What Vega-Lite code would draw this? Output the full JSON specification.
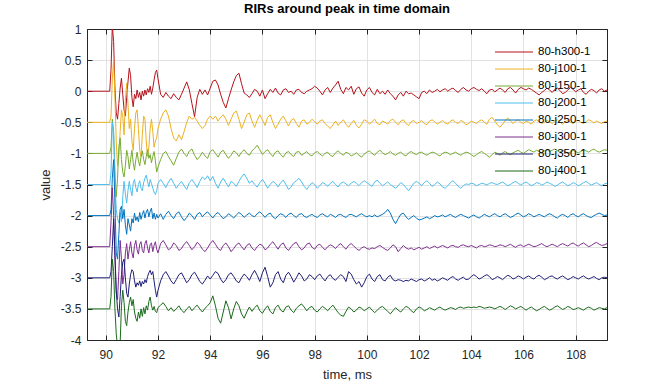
{
"$schema":"https://vega.github.io/schema/vega-lite/v6.json",
"width":520,"height":311,
"autosize":{"type":"none"},
"padding":{"left":87,"top":29,"right":65,"bottom":44},
"background":"white",
"title":{"text":"RIRs around peak in time domain","fontSize":13,"fontWeight":"bold","font":"Liberation Sans","color":"#000000","offset":7,"anchor":"middle"},
"config":{"view":{"stroke":"#262626","strokeWidth":1},"font":"Liberation Sans",
"axis":{"domainColor":"#262626","tickColor":"#262626","tickSize":-5,"labelColor":"#262626","labelFontSize":12,"labelFont":"Liberation Sans","titleFont":"Liberation Sans","titleFontWeight":"normal","titleFontSize":13,"titleColor":"#262626","gridColor":"#e2e2e2","gridWidth":1}},
"data":{"values":[
{"t":89.28,"a":0,"b":-0.5,"c":-1,"d":-1.5,"e":-2,"f":-2.5,"g":-3,"h":-3.5},
{"t":90.15,"a":0,"b":-0.5,"c":-1,"d":-1.5,"e":-2,"f":-2.5,"g":-3,"h":-3.5},
{"t":90.2,"a":0.35,"b":-0.4,"c":-0.9,"d":-1.3,"e":-1.9,"f":-2.1,"g":-2.9,"h":-3.3},
{"t":90.25,"a":1.05,"b":0.2,"c":-0.45,"d":-0.5,"e":-1.4,"f":-1.55,"g":-2.5,"h":-2.7},
{"t":90.3,"a":0.8,"b":0.5,"c":-0.7,"d":-0.65,"e":-1.1,"f":-2.0,"g":-2.05,"h":-2.9},
{"t":90.35,"a":0.05,"b":-0.1,"c":-1.3,"d":-1.4,"e":-1.8,"f":-2.7,"g":-2.6,"h":-3.5},
{"t":90.4,"a":-0.35,"b":-0.8,"c":-1.7,"d":-1.9,"e":-2.6,"f":-3.25,"g":-3.2,"h":-3.9},
{"t":90.45,"a":-0.45,"b":-1.2,"c":-1.4,"d":-2.05,"e":-2.7,"f":-3.35,"g":-3.5,"h":-4.1},
{"t":90.5,"a":-0.2,"b":-1.05,"c":-0.9,"d":-2.12,"e":-2.3,"f":-2.9,"g":-3.63,"h":-4.15},
{"t":90.55,"a":0.05,"b":-0.65,"c":-0.75,"d":-1.95,"e":-1.9,"f":-2.4,"g":-3.3,"h":-4.05},
{"t":90.6,"a":0.21,"b":-0.3,"c":-1.1,"d":-2.1,"e":-1.85,"f":-2.7,"g":-2.95,"h":-3.45},
{"t":90.65,"a":-0.05,"b":-0.4,"c":-1.3,"d":-1.7,"e":-2.05,"f":-3.1,"g":-2.75,"h":-3.2},
{"t":90.7,"a":-0.3,"b":-0.7,"c":-1.38,"d":-1.45,"e":-1.9,"f":-2.95,"g":-2.7,"h":-3.4},
{"t":90.75,"a":-0.4,"b":-0.15,"c":-1.2,"d":-1.65,"e":-2.15,"f":-2.6,"g":-3.0,"h":-3.7},
{"t":90.8,"a":-0.1,"b":0.13,"c":-0.95,"d":-1.8,"e":-2.3,"f":-2.45,"g":-3.25,"h":-3.77},
{"t":90.85,"a":0.15,"b":-0.2,"c":-1.05,"d":-1.6,"e":-2.05,"f":-2.7,"g":-3.31,"h":-3.55},
{"t":90.9,"a":0.37,"b":-0.6,"c":-1.25,"d":-1.45,"e":-2.15,"f":-2.55,"g":-3.1,"h":-3.4},
{"t":90.95,"a":0.25,"b":-0.45,"c":-1.1,"d":-1.58,"e":-2.25,"f":-2.42,"g":-2.95,"h":-3.31},
{"t":91.0,"a":-0.1,"b":-0.8,"c":-0.95,"d":-1.68,"e":-2.05,"f":-2.6,"g":-2.87,"h":-3.45},
{"t":91.05,"a":-0.25,"b":-0.95,"c":-1.15,"d":-1.48,"e":-2.12,"f":-2.68,"g":-2.9,"h":-3.35},
{"t":91.1,"a":-0.05,"b":-0.6,"c":-1.27,"d":-1.42,"e":-1.96,"f":-2.48,"g":-3.05,"h":-3.55},
{"t":91.15,"a":-0.12,"b":-0.35,"c":-1.1,"d":-1.55,"e":-2.08,"f":-2.4,"g":-3.15,"h":-3.65},
{"t":91.2,"a":0.02,"b":-0.3,"c":-0.98,"d":-1.62,"e":-2.02,"f":-2.55,"g":-3.08,"h":-3.7},
{"t":91.25,"a":-0.1,"b":-0.6,"c":-1.12,"d":-1.5,"e":-2.1,"f":-2.62,"g":-3.12,"h":-3.55},
{"t":91.3,"a":-0.02,"b":-0.95,"c":-1.2,"d":-1.44,"e":-1.95,"f":-2.46,"g":-3.05,"h":-3.65},
{"t":91.35,"a":-0.14,"b":-1.05,"c":-1.05,"d":-1.56,"e":-2.06,"f":-2.42,"g":-3.14,"h":-3.5},
{"t":91.4,"a":0.0,"b":-0.7,"c":-0.96,"d":-1.6,"e":-1.98,"f":-2.56,"g":-3.06,"h":-3.62},
{"t":91.45,"a":-0.08,"b":-0.4,"c":-1.1,"d":-1.47,"e":-1.92,"f":-2.6,"g":-3.1,"h":-3.48},
{"t":91.5,"a":0.02,"b":-0.45,"c":-1.18,"d":-1.4,"e":-2.04,"f":-2.45,"g":-3.03,"h":-3.58},
{"t":91.55,"a":-0.06,"b":-0.8,"c":-1.05,"d":-1.35,"e":-1.94,"f":-2.4,"g":-3.08,"h":-3.45},
{"t":91.6,"a":0.04,"b":-1.05,"c":-0.94,"d":-1.45,"e":-1.9,"f":-2.52,"g":-2.98,"h":-3.52},
{"t":91.65,"a":-0.02,"b":-0.9,"c":-1.08,"d":-1.54,"e":-2.02,"f":-2.6,"g":-2.92,"h":-3.38},
{"t":91.7,"a":0.08,"b":-0.6,"c":-1.02,"d":-1.42,"e":-1.93,"f":-2.46,"g":-2.88,"h":-3.31},
{"t":91.75,"a":-0.05,"b":-0.45,"c":-1.15,"d":-1.48,"e":-1.88,"f":-2.44,"g":-2.95,"h":-3.45},
{"t":91.8,"a":0.05,"b":-0.65,"c":-1.05,"d":-1.56,"e":-2.05,"f":-2.58,"g":-2.9,"h":-3.52},
{"t":91.85,"a":0.18,"b":-0.9,"c":-0.97,"d":-1.62,"e":-1.96,"f":-2.48,"g":-3.05,"h":-3.46},
{"t":91.9,"a":0.3,"b":-0.8,"c":-1.12,"d":-1.66,"e":-2.06,"f":-2.42,"g":-3.2,"h":-3.54},
{"t":91.95,"a":0.34,"b":-0.75,"c":-1.3,"d":-1.6,"e":-1.98,"f":-2.54,"g":-3.31,"h":-3.56},
{"t":92.0,"a":0.2,"b":-0.6,"c":-1.22,"d":-1.48,"e":-2.04,"f":-2.6,"g":-3.2,"h":-3.48},
{"t":92.1,"a":-0.05,"b":-0.45,"c":-1.1,"d":-1.42,"e":-1.97,"f":-2.45,"g":-3.05,"h":-3.44},
{"t":92.2,"a":-0.1,"b":-0.35,"c":-1.0,"d":-1.48,"e":-2.06,"f":-2.4,"g":-2.95,"h":-3.4},
{"t":92.3,"a":-0.02,"b":-0.3,"c":-0.97,"d":-1.55,"e":-1.98,"f":-2.47,"g":-2.9,"h":-3.46},
{"t":92.4,"a":-0.08,"b":-0.4,"c":-1.05,"d":-1.46,"e":-1.93,"f":-2.55,"g":-2.97,"h":-3.53},
{"t":92.5,"a":-0.12,"b":-0.6,"c":-1.12,"d":-1.4,"e":-2.0,"f":-2.52,"g":-3.05,"h":-3.48},
{"t":92.6,"a":-0.04,"b":-0.75,"c":-1.19,"d":-1.48,"e":-2.05,"f":-2.44,"g":-3.1,"h":-3.54},
{"t":92.7,"a":-0.1,"b":-0.8,"c":-1.08,"d":-1.56,"e":-1.97,"f":-2.48,"g":-3.03,"h":-3.5},
{"t":92.8,"a":-0.14,"b":-0.7,"c":-0.98,"d":-1.5,"e":-1.94,"f":-2.56,"g":-2.95,"h":-3.45},
{"t":92.9,"a":-0.05,"b":-0.78,"c":-0.93,"d":-1.45,"e":-2.02,"f":-2.53,"g":-2.92,"h":-3.52},
{"t":93.0,"a":0.05,"b":-0.65,"c":-1.0,"d":-1.52,"e":-2.08,"f":-2.46,"g":-3.0,"h":-3.56},
{"t":93.1,"a":0.15,"b":-0.5,"c":-1.05,"d":-1.58,"e":-2.03,"f":-2.42,"g":-3.08,"h":-3.5},
{"t":93.2,"a":0.02,"b":-0.4,"c":-0.96,"d":-1.47,"e":-1.96,"f":-2.48,"g":-3.03,"h":-3.46},
{"t":93.3,"a":-0.2,"b":-0.45,"c":-0.93,"d":-1.42,"e":-2.0,"f":-2.55,"g":-2.95,"h":-3.53},
{"t":93.4,"a":-0.41,"b":-0.42,"c":-1.03,"d":-1.48,"e":-2.06,"f":-2.5,"g":-2.91,"h":-3.48},
{"t":93.5,"a":-0.1,"b":-0.48,"c":-1.1,"d":-1.55,"e":-1.98,"f":-2.43,"g":-2.98,"h":-3.44},
{"t":93.6,"a":0.03,"b":-0.55,"c":-1.05,"d":-1.45,"e":-1.95,"f":-2.47,"g":-3.06,"h":-3.5},
{"t":93.7,"a":-0.05,"b":-0.6,"c":-0.98,"d":-1.38,"e":-2.02,"f":-2.54,"g":-3.1,"h":-3.55},
{"t":93.8,"a":0.02,"b":-0.55,"c":-1.04,"d":-1.42,"e":-1.97,"f":-2.58,"g":-3.04,"h":-3.49},
{"t":93.9,"a":-0.06,"b":-0.45,"c":-1.08,"d":-1.36,"e":-1.94,"f":-2.52,"g":-2.97,"h":-3.45},
{"t":94.0,"a":0.05,"b":-0.4,"c":-0.97,"d":-1.44,"e":-1.99,"f":-2.45,"g":-3.02,"h":-3.4},
{"t":94.1,"a":0.16,"b":-0.45,"c":-0.94,"d":-1.37,"e":-2.04,"f":-2.4,"g":-2.96,"h":-3.29},
{"t":94.2,"a":0.18,"b":-0.4,"c":-1.0,"d":-1.48,"e":-1.98,"f":-2.46,"g":-2.9,"h":-3.45},
{"t":94.3,"a":0.1,"b":-0.48,"c":-1.06,"d":-1.56,"e":-1.95,"f":-2.53,"g":-2.93,"h":-3.65},
{"t":94.4,"a":-0.05,"b":-0.42,"c":-0.98,"d":-1.46,"e":-2.0,"f":-2.56,"g":-3.02,"h":-3.73},
{"t":94.5,"a":-0.18,"b":-0.38,"c":-0.95,"d":-1.4,"e":-2.05,"f":-2.48,"g":-3.08,"h":-3.55},
{"t":94.6,"a":-0.27,"b":-0.45,"c":-1.02,"d":-1.47,"e":-2.02,"f":-2.44,"g":-3.03,"h":-3.37},
{"t":94.7,"a":-0.12,"b":-0.55,"c":-1.08,"d":-1.54,"e":-1.97,"f":-2.5,"g":-2.95,"h":-3.48},
{"t":94.8,"a":0.02,"b":-0.45,"c":-1.03,"d":-1.45,"e":-2.0,"f":-2.58,"g":-2.92,"h":-3.66},
{"t":94.9,"a":0.15,"b":-0.35,"c":-0.96,"d":-1.48,"e":-2.04,"f":-2.53,"g":-2.98,"h":-3.5},
{"t":95.0,"a":0.25,"b":-0.32,"c":-0.99,"d":-1.53,"e":-1.99,"f":-2.47,"g":-3.05,"h":-3.38},
{"t":95.1,"a":0.29,"b":-0.45,"c":-1.05,"d":-1.45,"e":-1.95,"f":-2.44,"g":-3.08,"h":-3.45},
{"t":95.2,"a":0.12,"b":-0.6,"c":-0.98,"d":-1.38,"e":-1.98,"f":-2.5,"g":-3.0,"h":-3.58},
{"t":95.3,"a":-0.03,"b":-0.5,"c":-0.94,"d":-1.33,"e":-2.03,"f":-2.55,"g":-2.94,"h":-3.65},
{"t":95.4,"a":-0.06,"b":-0.38,"c":-1.0,"d":-1.4,"e":-1.99,"f":-2.48,"g":-2.98,"h":-3.55},
{"t":95.5,"a":-0.1,"b":-0.35,"c":-1.03,"d":-1.48,"e":-1.96,"f":-2.45,"g":-3.04,"h":-3.47},
{"t":95.6,"a":-0.04,"b":-0.48,"c":-0.96,"d":-1.44,"e":-2.0,"f":-2.52,"g":-2.95,"h":-3.54},
{"t":95.7,"a":0.03,"b":-0.58,"c":-0.92,"d":-1.5,"e":-2.02,"f":-2.56,"g":-2.88,"h":-3.48},
{"t":95.8,"a":0.0,"b":-0.47,"c":-0.87,"d":-1.54,"e":-1.97,"f":-2.5,"g":-2.96,"h":-3.44},
{"t":95.9,"a":-0.08,"b":-0.38,"c":-0.94,"d":-1.47,"e":-1.94,"f":-2.46,"g":-3.06,"h":-3.53},
{"t":96.0,"a":0.02,"b":-0.46,"c":-1.02,"d":-1.42,"e":-1.98,"f":-2.48,"g":-2.92,"h":-3.57},
{"t":96.1,"a":-0.12,"b":-0.55,"c":-0.97,"d":-1.48,"e":-2.03,"f":-2.55,"g":-2.83,"h":-3.5},
{"t":96.2,"a":-0.04,"b":-0.42,"c":-0.94,"d":-1.56,"e":-1.98,"f":-2.52,"g":-2.98,"h":-3.45},
{"t":96.3,"a":0.03,"b":-0.38,"c":-1.0,"d":-1.5,"e":-1.96,"f":-2.46,"g":-3.15,"h":-3.54},
{"t":96.4,"a":-0.02,"b":-0.5,"c":-1.05,"d":-1.45,"e":-2.02,"f":-2.42,"g":-3.08,"h":-3.58},
{"t":96.5,"a":0.05,"b":-0.6,"c":-0.98,"d":-1.48,"e":-2.05,"f":-2.48,"g":-2.95,"h":-3.48},
{"t":96.6,"a":-0.03,"b":-0.53,"c":-0.96,"d":-1.54,"e":-2.0,"f":-2.54,"g":-2.9,"h":-3.44},
{"t":96.7,"a":-0.06,"b":-0.45,"c":-1.02,"d":-1.47,"e":-1.97,"f":-2.47,"g":-3.02,"h":-3.52},
{"t":96.8,"a":0.02,"b":-0.4,"c":-1.06,"d":-1.43,"e":-1.99,"f":-2.44,"g":-3.08,"h":-3.55},
{"t":96.9,"a":0.04,"b":-0.48,"c":-0.99,"d":-1.5,"e":-2.03,"f":-2.52,"g":-2.96,"h":-3.47},
{"t":97.0,"a":-0.02,"b":-0.56,"c":-0.97,"d":-1.58,"e":-1.98,"f":-2.56,"g":-2.91,"h":-3.45},
{"t":97.1,"a":0.0,"b":-0.47,"c":-1.02,"d":-1.54,"e":-1.96,"f":-2.5,"g":-2.98,"h":-3.52},
{"t":97.2,"a":-0.05,"b":-0.44,"c":-1.05,"d":-1.47,"e":-2.0,"f":-2.45,"g":-3.07,"h":-3.56},
{"t":97.3,"a":0.02,"b":-0.52,"c":-0.98,"d":-1.44,"e":-2.03,"f":-2.43,"g":-3.0,"h":-3.49},
{"t":97.4,"a":0.03,"b":-0.58,"c":-0.97,"d":-1.4,"e":-1.98,"f":-2.5,"g":-2.92,"h":-3.45},
{"t":97.5,"a":-0.02,"b":-0.48,"c":-1.03,"d":-1.46,"e":-1.97,"f":-2.55,"g":-2.97,"h":-3.42},
{"t":97.6,"a":-0.04,"b":-0.46,"c":-1.0,"d":-1.53,"e":-2.01,"f":-2.52,"g":-3.05,"h":-3.47},
{"t":97.7,"a":0.0,"b":-0.53,"c":-0.97,"d":-1.58,"e":-2.03,"f":-2.46,"g":-3.02,"h":-3.53},
{"t":97.8,"a":0.02,"b":-0.5,"c":-1.02,"d":-1.52,"e":-2.0,"f":-2.44,"g":-2.95,"h":-3.48},
{"t":97.9,"a":0.04,"b":-0.45,"c":-1.04,"d":-1.47,"e":-1.98,"f":-2.51,"g":-2.98,"h":-3.46},
{"t":98.0,"a":0.08,"b":-0.49,"c":-0.99,"d":-1.5,"e":-2.01,"f":-2.54,"g":-3.03,"h":-3.52},
{"t":98.1,"a":0.05,"b":-0.53,"c":-0.97,"d":-1.56,"e":-2.03,"f":-2.48,"g":-2.97,"h":-3.55},
{"t":98.2,"a":0.0,"b":-0.48,"c":-1.01,"d":-1.52,"e":-1.99,"f":-2.46,"g":-2.94,"h":-3.5},
{"t":98.3,"a":-0.06,"b":-0.46,"c":-1.04,"d":-1.47,"e":-1.97,"f":-2.51,"g":-3.0,"h":-3.46},
{"t":98.4,"a":0.02,"b":-0.52,"c":-1.0,"d":-1.49,"e":-2.0,"f":-2.55,"g":-3.05,"h":-3.49},
{"t":98.5,"a":0.06,"b":-0.56,"c":-0.98,"d":-1.53,"e":-2.02,"f":-2.5,"g":-2.98,"h":-3.53},
{"t":98.6,"a":-0.02,"b":-0.6,"c":-1.03,"d":-1.48,"e":-1.98,"f":-2.47,"g":-2.95,"h":-3.48},
{"t":98.7,"a":0.05,"b":-0.54,"c":-1.05,"d":-1.45,"e":-2.0,"f":-2.49,"g":-3.01,"h":-3.44},
{"t":98.8,"a":0.1,"b":-0.48,"c":-0.99,"d":-1.5,"e":-2.03,"f":-2.53,"g":-3.04,"h":-3.5},
{"t":98.9,"a":0.16,"b":-0.55,"c":-0.96,"d":-1.54,"e":-1.99,"f":-2.48,"g":-2.99,"h":-3.56},
{"t":99.0,"a":0.03,"b":-0.5,"c":-1.0,"d":-1.48,"e":-1.98,"f":-2.45,"g":-2.95,"h":-3.6},
{"t":99.1,"a":-0.04,"b":-0.46,"c":-1.03,"d":-1.46,"e":-2.01,"f":-2.5,"g":-2.98,"h":-3.62},
{"t":99.2,"a":0.06,"b":-0.53,"c":-0.98,"d":-1.49,"e":-2.03,"f":-2.54,"g":-3.06,"h":-3.54},
{"t":99.3,"a":0.02,"b":-0.58,"c":-1.0,"d":-1.52,"e":-1.99,"f":-2.48,"g":-2.9,"h":-3.47},
{"t":99.4,"a":0.08,"b":-0.52,"c":-1.04,"d":-1.48,"e":-1.98,"f":-2.45,"g":-2.94,"h":-3.5},
{"t":99.5,"a":-0.05,"b":-0.47,"c":-1.02,"d":-1.45,"e":-2.0,"f":-2.49,"g":-3.03,"h":-3.55},
{"t":99.6,"a":0.04,"b":-0.55,"c":-0.99,"d":-1.48,"e":-2.02,"f":-2.53,"g":-3.1,"h":-3.52},
{"t":99.7,"a":0.07,"b":-0.59,"c":-1.03,"d":-1.52,"e":-1.99,"f":-2.56,"g":-3.06,"h":-3.47},
{"t":99.8,"a":-0.03,"b":-0.53,"c":-1.06,"d":-1.47,"e":-1.97,"f":-2.52,"g":-3.15,"h":-3.49},
{"t":99.9,"a":-0.08,"b":-0.46,"c":-1.01,"d":-1.44,"e":-2.0,"f":-2.5,"g":-3.08,"h":-3.53},
{"t":100.0,"a":0.02,"b":-0.48,"c":-0.98,"d":-1.47,"e":-2.02,"f":-2.53,"g":-2.98,"h":-3.5},
{"t":100.1,"a":0.06,"b":-0.53,"c":-0.96,"d":-1.5,"e":-2.0,"f":-2.54,"g":-2.94,"h":-3.47},
{"t":100.2,"a":-0.02,"b":-0.49,"c":-1.0,"d":-1.53,"e":-2.02,"f":-2.52,"g":-3.02,"h":-3.52},
{"t":100.3,"a":-0.06,"b":-0.45,"c":-1.03,"d":-1.46,"e":-1.99,"f":-2.53,"g":-3.06,"h":-3.56},
{"t":100.4,"a":0.03,"b":-0.52,"c":-0.98,"d":-1.43,"e":-2.02,"f":-2.5,"g":-2.98,"h":-3.52},
{"t":100.5,"a":-0.04,"b":-0.54,"c":-0.95,"d":-1.48,"e":-2.0,"f":-2.48,"g":-2.95,"h":-3.48},
{"t":100.6,"a":0.0,"b":-0.48,"c":-0.99,"d":-1.52,"e":-1.98,"f":-2.51,"g":-3.03,"h":-3.46},
{"t":100.7,"a":-0.05,"b":-0.5,"c":-1.02,"d":-1.49,"e":-1.95,"f":-2.54,"g":-3.05,"h":-3.5},
{"t":100.8,"a":0.02,"b":-0.53,"c":-1.0,"d":-1.46,"e":-1.9,"f":-2.56,"g":-2.99,"h":-3.54},
{"t":100.9,"a":-0.04,"b":-0.47,"c":-0.97,"d":-1.5,"e":-1.96,"f":-2.52,"g":-2.96,"h":-3.58},
{"t":101.0,"a":-0.08,"b":-0.45,"c":-1.01,"d":-1.53,"e":-2.06,"f":-2.47,"g":-3.03,"h":-3.53},
{"t":101.1,"a":-0.14,"b":-0.5,"c":-1.03,"d":-1.56,"e":-2.13,"f":-2.5,"g":-3.05,"h":-3.48},
{"t":101.2,"a":-0.06,"b":-0.54,"c":-1.0,"d":-1.52,"e":-2.05,"f":-2.58,"g":-3.03,"h":-3.52},
{"t":101.3,"a":-0.02,"b":-0.48,"c":-0.98,"d":-1.47,"e":-1.98,"f":-2.53,"g":-3.04,"h":-3.55},
{"t":101.4,"a":-0.08,"b":-0.46,"c":-1.02,"d":-1.5,"e":-1.96,"f":-2.48,"g":-3.06,"h":-3.5},
{"t":101.5,"a":0.0,"b":-0.52,"c":-1.04,"d":-1.55,"e":-2.02,"f":-2.52,"g":-3.04,"h":-3.46},
{"t":101.6,"a":-0.04,"b":-0.55,"c":-0.99,"d":-1.6,"e":-2.06,"f":-2.54,"g":-3.05,"h":-3.48},
{"t":101.7,"a":-0.03,"b":-0.49,"c":-0.97,"d":-1.54,"e":-2.03,"f":-2.52,"g":-3.02,"h":-3.53},
{"t":101.8,"a":-0.06,"b":-0.47,"c":-1.0,"d":-1.48,"e":-2.0,"f":-2.55,"g":-3.04,"h":-3.56},
{"t":101.9,"a":-0.09,"b":-0.52,"c":-1.02,"d":-1.45,"e":-2.04,"f":-2.53,"g":-3.06,"h":-3.5},
{"t":102.0,"a":-0.12,"b":-0.5,"c":-0.99,"d":-1.48,"e":-2.07,"f":-2.51,"g":-3.03,"h":-3.47},
{"t":102.1,"a":-0.02,"b":-0.47,"c":-0.98,"d":-1.52,"e":-2.06,"f":-2.54,"g":-3.02,"h":-3.49},
{"t":102.2,"a":0.0,"b":-0.52,"c":-1.01,"d":-1.47,"e":-2.04,"f":-2.52,"g":-3.05,"h":-3.53},
{"t":102.3,"a":-0.04,"b":-0.54,"c":-1.03,"d":-1.44,"e":-2.02,"f":-2.5,"g":-3.03,"h":-3.51},
{"t":102.4,"a":0.02,"b":-0.48,"c":-1.0,"d":-1.48,"e":-2.05,"f":-2.53,"g":-3.0,"h":-3.48},
{"t":102.5,"a":-0.02,"b":-0.46,"c":-0.98,"d":-1.53,"e":-2.03,"f":-2.51,"g":-3.04,"h":-3.5},
{"t":102.6,"a":0.0,"b":-0.49,"c":-0.99,"d":-1.5,"e":-2.0,"f":-2.49,"g":-3.02,"h":-3.52},
{"t":102.7,"a":0.03,"b":-0.53,"c":-1.02,"d":-1.46,"e":-2.02,"f":-2.52,"g":-3.05,"h":-3.49},
{"t":102.8,"a":-0.01,"b":-0.5,"c":-1.04,"d":-1.49,"e":-2.01,"f":-2.5,"g":-3.03,"h":-3.47},
{"t":102.9,"a":0.02,"b":-0.47,"c":-1.0,"d":-1.54,"e":-1.99,"f":-2.48,"g":-3.0,"h":-3.5},
{"t":103.0,"a":0.04,"b":-0.51,"c":-0.98,"d":-1.56,"e":-2.02,"f":-2.5,"g":-3.02,"h":-3.52},
{"t":103.1,"a":0.0,"b":-0.53,"c":-0.99,"d":-1.52,"e":-2.0,"f":-2.52,"g":-3.04,"h":-3.5},
{"t":103.2,"a":0.03,"b":-0.48,"c":-1.02,"d":-1.47,"e":-1.98,"f":-2.49,"g":-3.0,"h":-3.48},
{"t":103.3,"a":0.05,"b":-0.46,"c":-1.0,"d":-1.44,"e":-2.01,"f":-2.48,"g":-2.98,"h":-3.49},
{"t":103.4,"a":0.01,"b":-0.5,"c":-0.98,"d":-1.48,"e":-2.03,"f":-2.5,"g":-3.02,"h":-3.51},
{"t":103.5,"a":-0.02,"b":-0.52,"c":-1.01,"d":-1.53,"e":-2.0,"f":-2.51,"g":-3.04,"h":-3.48},
{"t":103.6,"a":0.03,"b":-0.47,"c":-1.03,"d":-1.56,"e":-1.98,"f":-2.48,"g":-3.01,"h":-3.47},
{"t":103.7,"a":0.06,"b":-0.49,"c":-1.0,"d":-1.52,"e":-2.0,"f":-2.47,"g":-2.99,"h":-3.49},
{"t":103.8,"a":0.02,"b":-0.54,"c":-0.98,"d":-1.49,"e":-2.02,"f":-2.49,"g":-3.03,"h":-3.48},
{"t":103.9,"a":0.0,"b":-0.52,"c":-0.99,"d":-1.5,"e":-2.04,"f":-2.5,"g":-3.02,"h":-3.47},
{"t":104.0,"a":0.04,"b":-0.48,"c":-1.02,"d":-1.48,"e":-2.01,"f":-2.48,"g":-2.98,"h":-3.48},
{"t":104.1,"a":0.06,"b":-0.5,"c":-1.05,"d":-1.49,"e":-1.99,"f":-2.5,"g":-2.95,"h":-3.47},
{"t":104.2,"a":0.03,"b":-0.52,"c":-1.02,"d":-1.52,"e":-2.02,"f":-2.52,"g":-2.98,"h":-3.48},
{"t":104.3,"a":0.01,"b":-0.48,"c":-0.99,"d":-1.5,"e":-2.04,"f":-2.49,"g":-3.02,"h":-3.46},
{"t":104.4,"a":0.04,"b":-0.46,"c":-0.97,"d":-1.48,"e":-2.01,"f":-2.48,"g":-3.0,"h":-3.47},
{"t":104.5,"a":0.0,"b":-0.5,"c":-1.0,"d":-1.49,"e":-1.98,"f":-2.5,"g":-2.97,"h":-3.49},
{"t":104.6,"a":-0.04,"b":-0.53,"c":-1.03,"d":-1.51,"e":-2.0,"f":-2.49,"g":-2.95,"h":-3.48},
{"t":104.7,"a":0.02,"b":-0.45,"c":-1.06,"d":-1.48,"e":-2.02,"f":-2.47,"g":-2.98,"h":-3.47},
{"t":104.8,"a":0.03,"b":-0.42,"c":-1.02,"d":-1.47,"e":-1.99,"f":-2.48,"g":-3.03,"h":-3.48},
{"t":104.9,"a":-0.01,"b":-0.48,"c":-0.98,"d":-1.49,"e":-1.97,"f":-2.5,"g":-3.01,"h":-3.5},
{"t":105.0,"a":0.02,"b":-0.54,"c":-1.0,"d":-1.5,"e":-2.0,"f":-2.49,"g":-2.98,"h":-3.48},
{"t":105.1,"a":0.05,"b":-0.58,"c":-1.03,"d":-1.48,"e":-2.02,"f":-2.47,"g":-3.0,"h":-3.46},
{"t":105.2,"a":0.02,"b":-0.53,"c":-0.99,"d":-1.46,"e":-1.99,"f":-2.48,"g":-3.03,"h":-3.48},
{"t":105.3,"a":-0.02,"b":-0.47,"c":-0.97,"d":-1.49,"e":-1.97,"f":-2.5,"g":-2.99,"h":-3.51},
{"t":105.4,"a":0.04,"b":-0.43,"c":-1.0,"d":-1.52,"e":-2.0,"f":-2.48,"g":-2.96,"h":-3.48},
{"t":105.5,"a":0.06,"b":-0.48,"c":-1.02,"d":-1.5,"e":-2.03,"f":-2.46,"g":-2.98,"h":-3.45},
{"t":105.6,"a":0.02,"b":-0.52,"c":-0.99,"d":-1.47,"e":-2.01,"f":-2.49,"g":-3.02,"h":-3.47},
{"t":105.7,"a":-0.03,"b":-0.48,"c":-0.97,"d":-1.45,"e":-1.98,"f":-2.51,"g":-3.0,"h":-3.5},
{"t":105.8,"a":0.03,"b":-0.46,"c":-0.95,"d":-1.48,"e":-1.96,"f":-2.48,"g":-2.97,"h":-3.48},
{"t":105.9,"a":0.06,"b":-0.5,"c":-0.98,"d":-1.51,"e":-1.99,"f":-2.47,"g":-2.99,"h":-3.46},
{"t":106.0,"a":0.04,"b":-0.52,"c":-1.0,"d":-1.48,"e":-2.02,"f":-2.5,"g":-3.02,"h":-3.49},
{"t":106.1,"a":0.02,"b":-0.48,"c":-0.97,"d":-1.46,"e":-2.0,"f":-2.48,"g":-2.99,"h":-3.52},
{"t":106.2,"a":0.05,"b":-0.5,"c":-0.94,"d":-1.49,"e":-1.97,"f":-2.46,"g":-2.97,"h":-3.49},
{"t":106.3,"a":0.03,"b":-0.53,"c":-0.96,"d":-1.52,"e":-1.99,"f":-2.48,"g":-3.0,"h":-3.47},
{"t":106.4,"a":0.0,"b":-0.48,"c":-0.98,"d":-1.5,"e":-2.02,"f":-2.5,"g":-3.02,"h":-3.5},
{"t":106.5,"a":-0.03,"b":-0.46,"c":-0.95,"d":-1.47,"e":-2.0,"f":-2.49,"g":-2.98,"h":-3.53},
{"t":106.6,"a":-0.06,"b":-0.49,"c":-0.97,"d":-1.48,"e":-1.98,"f":-2.47,"g":-2.96,"h":-3.51},
{"t":106.7,"a":-0.02,"b":-0.52,"c":-1.0,"d":-1.51,"e":-2.0,"f":-2.45,"g":-2.99,"h":-3.48},
{"t":106.8,"a":0.01,"b":-0.5,"c":-0.96,"d":-1.49,"e":-2.02,"f":-2.48,"g":-3.03,"h":-3.46},
{"t":106.9,"a":0.05,"b":-0.47,"c":-0.94,"d":-1.46,"e":-1.99,"f":-2.5,"g":-3.01,"h":-3.49},
{"t":107.0,"a":0.02,"b":-0.49,"c":-0.97,"d":-1.48,"e":-1.97,"f":-2.48,"g":-2.98,"h":-3.52},
{"t":107.1,"a":-0.02,"b":-0.52,"c":-0.95,"d":-1.5,"e":-1.99,"f":-2.46,"g":-2.97,"h":-3.5},
{"t":107.2,"a":0.03,"b":-0.48,"c":-0.93,"d":-1.53,"e":-2.02,"f":-2.48,"g":-3.0,"h":-3.47},
{"t":107.3,"a":0.05,"b":-0.46,"c":-0.96,"d":-1.51,"e":-2.04,"f":-2.5,"g":-3.02,"h":-3.45},
{"t":107.4,"a":0.01,"b":-0.5,"c":-0.98,"d":-1.48,"e":-2.0,"f":-2.47,"g":-2.99,"h":-3.48},
{"t":107.5,"a":-0.04,"b":-0.53,"c":-0.95,"d":-1.46,"e":-1.98,"f":-2.45,"g":-2.97,"h":-3.51},
{"t":107.6,"a":-0.02,"b":-0.49,"c":-0.97,"d":-1.49,"e":-2.0,"f":-2.47,"g":-3.0,"h":-3.49},
{"t":107.7,"a":0.02,"b":-0.47,"c":-1.0,"d":-1.52,"e":-2.03,"f":-2.49,"g":-3.03,"h":-3.46},
{"t":107.8,"a":0.06,"b":-0.5,"c":-0.98,"d":-1.5,"e":-1.99,"f":-2.46,"g":-3.01,"h":-3.48},
{"t":107.9,"a":0.03,"b":-0.52,"c":-0.95,"d":-1.47,"e":-1.97,"f":-2.44,"g":-2.98,"h":-3.51},
{"t":108.0,"a":-0.01,"b":-0.48,"c":-0.97,"d":-1.49,"e":-2.0,"f":-2.47,"g":-3.0,"h":-3.5},
{"t":108.1,"a":0.02,"b":-0.47,"c":-0.99,"d":-1.52,"e":-2.02,"f":-2.49,"g":-3.02,"h":-3.48},
{"t":108.2,"a":0.04,"b":-0.5,"c":-0.97,"d":-1.5,"e":-1.99,"f":-2.46,"g":-2.99,"h":-3.5},
{"t":108.3,"a":-0.02,"b":-0.52,"c":-0.94,"d":-1.47,"e":-1.97,"f":-2.44,"g":-2.97,"h":-3.52},
{"t":108.4,"a":-0.05,"b":-0.49,"c":-0.96,"d":-1.45,"e":-2.0,"f":-2.47,"g":-3.0,"h":-3.49},
{"t":108.5,"a":0.0,"b":-0.46,"c":-0.98,"d":-1.48,"e":-2.02,"f":-2.5,"g":-3.02,"h":-3.47},
{"t":108.6,"a":0.03,"b":-0.48,"c":-0.95,"d":-1.51,"e":-2.03,"f":-2.48,"g":-3.0,"h":-3.49},
{"t":108.7,"a":0.01,"b":-0.51,"c":-0.93,"d":-1.49,"e":-2.0,"f":-2.45,"g":-2.98,"h":-3.52},
{"t":108.8,"a":-0.03,"b":-0.48,"c":-0.96,"d":-1.47,"e":-1.98,"f":-2.43,"g":-3.01,"h":-3.5},
{"t":108.9,"a":0.02,"b":-0.5,"c":-0.98,"d":-1.5,"e":-1.96,"f":-2.46,"g":-3.03,"h":-3.48},
{"t":109.0,"a":0.04,"b":-0.52,"c":-0.96,"d":-1.52,"e":-1.98,"f":-2.48,"g":-3.0,"h":-3.49},
{"t":109.1,"a":0.0,"b":-0.49,"c":-0.94,"d":-1.49,"e":-2.0,"f":-2.47,"g":-2.99,"h":-3.5},
{"t":109.2,"a":0.02,"b":-0.48,"c":-0.95,"d":-1.48,"e":-1.99,"f":-2.45,"g":-3.0,"h":-3.48}
]},
"transform":[{"fold":["a","b","c","d","e","f","g","h"],"as":["s","v"]}],
"layer":[
{"mark":{"type":"line","strokeWidth":1,"clip":true,"interpolate":"linear"},
 "encoding":{
  "x":{"field":"t","type":"quantitative","scale":{"domain":[89.28,109.2],"nice":false,"zero":false},
       "axis":{"orient":"bottom","values":[90,92,94,96,98,100,102,104,106,108],"labelExpr":"toString(datum.value)","grid":true,"labelPadding":14,"title":"time, ms","titlePadding":8}},
  "y":{"field":"v","type":"quantitative","scale":{"domain":[-4,1],"nice":false,"zero":false},
       "axis":{"orient":"left","values":[-4,-3.5,-3,-2.5,-2,-1.5,-1,-0.5,0,0.5,1],"labelExpr":"toString(datum.value)","grid":true,"labelPadding":11,"title":"value","titlePadding":8}},
  "color":{"field":"s","type":"nominal",
     "scale":{"domain":["a","b","c","d","e","f","g","h"],"range":["#B5121B","#EDB120","#77AC30","#4DBEEE","#0072BD","#7E2F8E","#1E1E78","#1A6B1A"]},
     "legend":{"title":null,"orient":"none","legendX":417,"legendY":13,"symbolType":"M-2,0H2","symbolSize":361,"symbolStrokeWidth":1,"symbolFillColor":"transparent","labelFontSize":11.5,"labelColor":"#000000","labelFont":"Liberation Sans","labelOffset":14,"rowPadding":1,"padding":0,
       "labelExpr":"{'a':'80-h300-1','b':'80-j100-1','c':'80-j150-1','d':'80-j200-1','e':'80-j250-1','f':'80-j300-1','g':'80-j350-1','h':'80-j400-1'}[datum.label]"}}
 }},
{"data":{"values":[{"x":100,"y":0}]},
 "mark":{"type":"point","opacity":0},
 "encoding":{
  "x":{"field":"x","type":"quantitative","axis":{"orient":"top","values":[90,92,94,96,98,100,102,104,106,108],"labels":false,"grid":false,"title":null}},
  "y":{"field":"y","type":"quantitative","axis":{"orient":"right","values":[-4,-3.5,-3,-2.5,-2,-1.5,-1,-0.5,0,0.5,1],"labels":false,"grid":false,"title":null}}
 }}
],
"resolve":{"axis":{"x":"independent","y":"independent"}}
}
